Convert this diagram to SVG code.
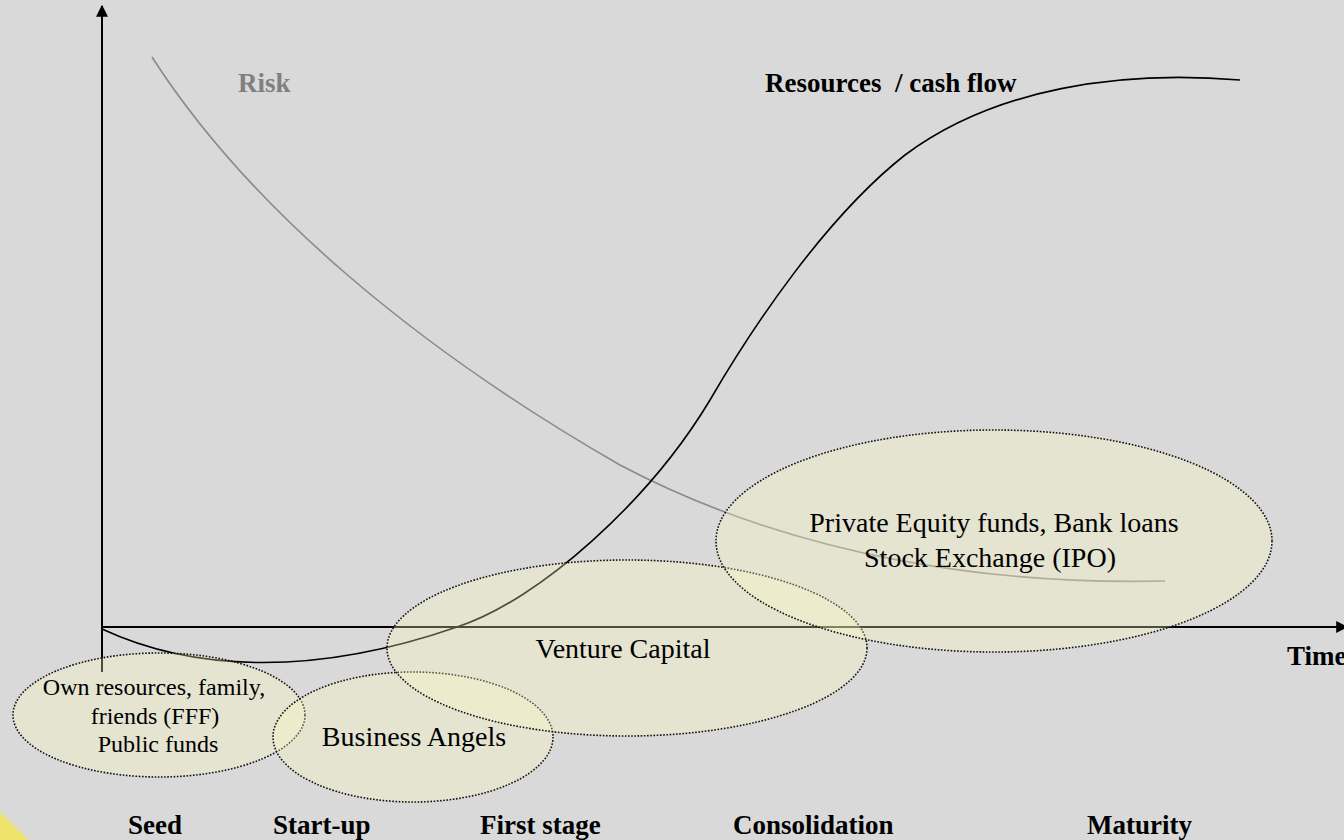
<svg xmlns="http://www.w3.org/2000/svg" width="1344" height="840" viewBox="0 0 1344 840">
  <style>
    .axis { stroke: #000; stroke-width: 2; fill: none; }
    .curve { fill: none; stroke-width: 1.6; }
    .stage { fill: #ffffc0; fill-opacity: 0.3; stroke: #111; stroke-width: 1.6; stroke-dasharray: 1.6 1.6; }
    .lbl { font-family: "Liberation Serif", "Times New Roman", serif; fill: #000; text-anchor: middle; }
    .bold { font-family: "Liberation Serif", "Times New Roman", serif; font-weight: bold; font-size: 27px; }
  </style>
  <defs>
    <marker id="arrow" viewBox="0 0 10 10" refX="9" refY="5" markerWidth="6" markerHeight="6" orient="auto" markerUnits="strokeWidth">
      <path d="M0,0 L10,5 L0,10 Z" fill="#000"/>
    </marker>
  </defs>

  <rect width="1344" height="840" fill="#d9d9d9"/>
  <polygon points="0,812 29,840 0,840" fill="#efe36c"/>

  <!-- axes and curves -->
  <g id="connectors">
    <line class="axis" x1="102" y1="672" x2="102" y2="6" marker-end="url(#arrow)"/>
    <line class="axis" x1="102" y1="627" x2="1347" y2="627" marker-end="url(#arrow)"/>
    <!-- risk: decays over time -->
    <path class="curve" stroke="#8a8a8a" d="M152,57 C250,210 420,350 620,465 C800,560 1000,585 1165,581"/>
    <!-- resources / cash flow: J-curve then S-curve -->
    <path class="curve" stroke="#000" d="M102,629 C190,670 310,678 457,627 C540,600 650,500 710,400 C752,328 825,218 905,155 C995,88 1120,70 1240,80"/>
  </g>

  <g id="fff">
    <ellipse class="stage" cx="159" cy="715" rx="146" ry="62"/>
  </g>
  <g id="business-angels">
    <ellipse class="stage" cx="413" cy="737" rx="140" ry="65"/>
  </g>
  <g id="venture-capital">
    <ellipse class="stage" cx="627" cy="648" rx="240" ry="88"/>
  </g>
  <g id="private-equity">
    <ellipse class="stage" cx="994" cy="541" rx="278" ry="111"/>
  </g>

  <g id="labels">
    <text class="lbl" x="154" y="695" font-size="24">Own resources, family,</text>
    <text class="lbl" x="155" y="724" font-size="24">friends (FFF)</text>
    <text class="lbl" x="158" y="752" font-size="24">Public funds</text>
    <text class="lbl" x="414" y="746" font-size="28">Business Angels</text>
    <text class="lbl" x="623" y="658" font-size="28">Venture Capital</text>
    <text class="lbl" x="994" y="532" font-size="28">Private Equity funds, Bank loans</text>
    <text class="lbl" x="990" y="567" font-size="28">Stock Exchange (IPO)</text>

    <text class="bold" x="238" y="92" fill="#808080">Risk</text>
    <text class="bold" x="765" y="92" fill="#000" xml:space="preserve">Resources  / cash flow</text>
    <text class="bold" x="1287" y="665" fill="#000">Time</text>

    <text class="bold" x="128" y="834" fill="#000">Seed</text>
    <text class="bold" x="273" y="834" fill="#000">Start-up</text>
    <text class="bold" x="480" y="834" fill="#000">First stage</text>
    <text class="bold" x="733" y="834" fill="#000">Consolidation</text>
    <text class="bold" x="1087" y="834" fill="#000">Maturity</text>
  </g>
</svg>
